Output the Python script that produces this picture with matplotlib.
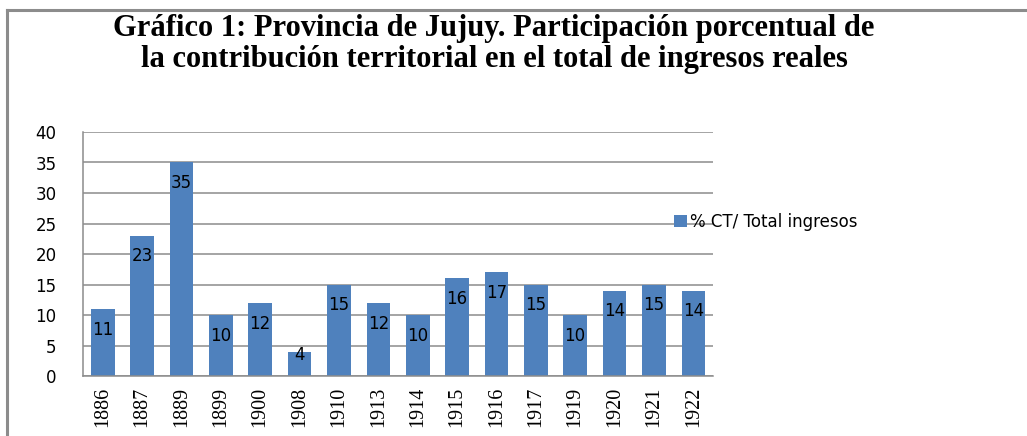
import matplotlib
matplotlib.use("Agg")
import matplotlib.pyplot as plt
from matplotlib.lines import Line2D
from matplotlib.patches import Patch

# Data
years = ["1886", "1887", "1889", "1899", "1900", "1908", "1910", "1913",
         "1914", "1915", "1916", "1917", "1919", "1920", "1921", "1922"]
shares = [11, 23, 35, 10, 12, 4, 15, 12, 10, 16, 17, 15, 10, 14, 15, 14]
yticks = [0, 5, 10, 15, 20, 25, 30, 35, 40]

title = ("Gráfico 1: Provincia de Jujuy. Participación porcentual de\n"
         "la contribución territorial en el total de ingresos reales")
series_name = "% CT/ Total ingresos"

bar_color = "#4f81bd"
grid_color = "#8c8c8c"

W, H = 1027, 436
fig = plt.figure(figsize=(W / 100, H / 100), dpi=100)
fig.patch.set_facecolor("white")

# plot area in pixels: left 83, right 713, top 132, bottom 376
ax = fig.add_axes([83 / W, 1 - 376 / H, (713 - 83) / W, (376 - 132) / H])

x = list(range(len(years)))
ax.bar(x, shares, width=0.6, color=bar_color, zorder=3)

ax.set_xlim(-0.5, len(years) - 0.5)
ax.set_ylim(0, 40)
ax.set_yticks(yticks)
ax.set_yticklabels([str(t) for t in yticks], fontsize=12,
                   family="DejaVu Sans")
ax.set_xticks(x)
ax.set_xticklabels(years, rotation=90, fontsize=14.5, family="Liberation Serif")
ax.tick_params(axis="y", length=0, pad=19)
ax.tick_params(axis="x", length=0, pad=8)

ax.yaxis.grid(True, color=grid_color, linewidth=1.1, zorder=0)
ax.set_axisbelow(True)
for side in ["top", "right"]:
    ax.spines[side].set_visible(False)
for side in ["left", "bottom"]:
    ax.spines[side].set_color(grid_color)
    ax.spines[side].set_linewidth(1.1)
    ax.spines[side].set_zorder(4)

# value labels just inside the bar tops
for xi, v in zip(x, shares):
    ypos = v - 3.4 if v > 6 else v - 0.5
    ax.text(xi, ypos, str(v), ha="center", va="center", fontsize=12,
            family="DejaVu Sans", color="black", zorder=5)

# legend, overlapping the plot area like the original
handle = Patch(facecolor=bar_color, edgecolor="none")
fig.legend([handle], [series_name], loc="center left",
           bbox_to_anchor=(659 / W, 1 - 222 / H), frameon=False,
           prop={"family": "DejaVu Sans", "size": 12},
           handlelength=0.75, handleheight=0.75, handletextpad=0.2)

fig.text(494 / W, 1 - 44 / H, title, ha="center", va="center",
         fontsize=22, fontweight="bold", family="Liberation Serif",
         linespacing=1.1)

# chart area border (left and top edges visible)
fig.add_artist(Line2D([7 / W, 7 / W], [0, 1 - 10 / H], color="#8c8c8c",
                      linewidth=2.2, transform=fig.transFigure))
fig.add_artist(Line2D([7 / W, 1], [1 - 10 / H, 1 - 10 / H], color="#8c8c8c",
                      linewidth=2.2, transform=fig.transFigure))

fig.savefig("out.png", dpi=100)
